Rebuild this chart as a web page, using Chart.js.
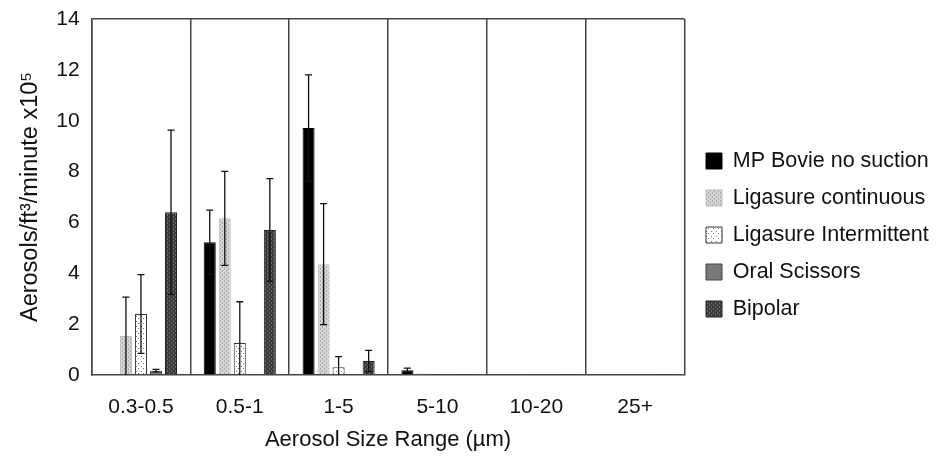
<!DOCTYPE html>
<html>
<head>
<meta charset="utf-8">
<script src="https://cdn.jsdelivr.net/npm/chart.js@4"></script>
<style>
html,body{margin:0;padding:0;background:#fff;}
#wrap{width:938px;height:456px;}
</style>
</head>
<body>
<div id="wrap"><canvas id="c" width="938" height="456"></canvas></div>
<script>
const categories = ['0.3-0.5', '0.5-1', '1-5', '5-10', '10-20', '25+'];
const seriesNames = ['MP Bovie no suction', 'Ligasure continuous', 'Ligasure Intermittent', 'Oral Scissors', 'Bipolar'];
const mpBovie      = [0.00, 5.22, 9.71, 0.19, 0.00, 0.00];
const ligCont      = [1.53, 6.16, 4.36, 0.06, 0.02, 0.00];
const ligInt       = [2.40, 1.26, 0.30, 0.02, 0.00, 0.00];
const oralScissors = [0.17, 0.02, 0.01, 0.02, 0.02, 0.00];
const bipolar      = [6.40, 5.70, 0.55, 0.02, 0.02, 0.02];
const mpBovieErr      = [0.00, 1.26, 2.09, 0.08, 0.00, 0.00];
const ligContErr      = [1.53, 1.85, 2.38, 0.00, 0.00, 0.00];
const ligIntErr       = [1.55, 1.62, 0.42, 0.00, 0.00, 0.00];
const oralScissorsErr = [0.05, 0.00, 0.00, 0.00, 0.00, 0.00];
const bipolarErr      = [3.23, 2.02, 0.42, 0.00, 0.00, 0.00];
const yTicks = [0, 2, 4, 6, 8, 10, 12, 14];

const FONT = '"Liberation Sans", Arial, sans-serif';

function makePattern(w, h, draw) {
  const c = document.createElement('canvas');
  c.width = w; c.height = h;
  const g = c.getContext('2d');
  draw(g);
  return document.getElementById('c').getContext('2d').createPattern(c, 'repeat');
}
const patLigCont = makePattern(4, 4, g => {
  g.fillStyle = '#d6d6d6'; g.fillRect(0, 0, 4, 4);
  g.fillStyle = '#a8a8a8'; g.fillRect(0, 0, 1, 2); g.fillRect(2, 2, 1, 2);
});
const patLigInt = makePattern(5, 5, g => {
  g.fillStyle = '#ffffff'; g.fillRect(0, 0, 5, 5);
  g.fillStyle = '#777777'; g.fillRect(1, 1, 1, 1); g.fillRect(3, 3, 1, 1);
});
const patOral = makePattern(4, 4, g => {
  g.fillStyle = '#7a7a7a'; g.fillRect(0, 0, 4, 4);
  g.fillStyle = '#6a6a6a'; g.fillRect(0, 0, 1, 1);
});
const patBipolar = makePattern(4, 4, g => {
  g.fillStyle = '#3a3a3a'; g.fillRect(0, 0, 4, 4);
  g.fillStyle = '#6a6a6a'; g.fillRect(1, 0, 1, 2); g.fillRect(3, 2, 1, 2);
});

const values = [mpBovie, ligCont, ligInt, oralScissors, bipolar];
const errors = [mpBovieErr, ligContErr, ligIntErr, oralScissorsErr, bipolarErr];
const fills = ['#000000', patLigCont, patLigInt, patOral, patBipolar];
const borders = ['#000000', '#bdbdbd', '#333333', '#444444', '#222222'];

const errorBars = {
  id: 'errorBars',
  afterDatasetsDraw(chart) {
    const ctx = chart.ctx;
    const y = chart.scales.y;
    ctx.save();
    ctx.strokeStyle = '#111';
    ctx.lineWidth = 1.3;
    chart.data.datasets.forEach((ds, di) => {
      const meta = chart.getDatasetMeta(di);
      meta.data.forEach((el, i) => {
        const e = errors[di][i];
        if (!e) return;
        const v = ds.data[i];
        const yt = y.getPixelForValue(v + e);
        const yb = y.getPixelForValue(Math.max(0, v - e));
        ctx.beginPath();
        ctx.moveTo(el.x, yt); ctx.lineTo(el.x, yb);
        ctx.moveTo(el.x - 3.5, yt); ctx.lineTo(el.x + 3.5, yt);
        if (v - e > 0) { ctx.moveTo(el.x - 3.5, yb); ctx.lineTo(el.x + 3.5, yb); }
        ctx.stroke();
      });
    });
    ctx.restore();
  }
};

// widen the legend box (gap between plot and legend) and nudge the legend items
const legendPlace = {
  id: 'legendPlace',
  beforeLayout(chart) {
    const lg = chart.legend;
    if (lg && !lg._patched) {
      const fit = lg.fit;
      lg.fit = function () { fit.call(this); this.width += 23; };
      lg._patched = true;
    }
  },
  afterLayout(chart) {
    const lg = chart.legend;
    lg.left += 6; lg.right += 6;
    lg.top -= 1; lg.bottom -= 1;
  }
};

new Chart(document.getElementById('c'), {
  type: 'bar',
  data: {
    labels: categories,
    datasets: seriesNames.map((n, i) => ({
      label: n,
      data: values[i],
      backgroundColor: fills[i],
      borderColor: borders[i],
      borderWidth: 1,
      categoryPercentage: 0.76,
      barPercentage: 0.8
    }))
  },
  options: {
    responsive: false,
    animation: false,
    devicePixelRatio: 1,
    layout: { padding: { top: 19, right: 0, left: 16, bottom: 3 } },
    plugins: {
      tooltip: { enabled: false },
      legend: {
        position: 'right',
        labels: {
          boxWidth: 16, boxHeight: 16, padding: 15.5,
          color: '#111',
          font: { family: FONT, size: 21.5 }
        }
      }
    },
    scales: {
      x: {
        afterFit(s) { s.height = 78; },
        grid: { offset: true, color: '#444', lineWidth: 1.5, drawTicks: false },
        border: { color: '#444', width: 1.5 },
        ticks: { color: '#111', padding: 20, maxRotation: 0, minRotation: 0, autoSkip: false, font: { family: FONT, size: 21 } },
        title: { display: true, text: 'Aerosol Size Range (µm)', color: '#111', padding: { top: 6, bottom: 0 }, font: { family: FONT, size: 22 } }
      },
      y: {
        min: 0, max: 14,
        afterFit(s) { s.paddingTop = 0; s.paddingBottom = 0; },
        afterBuildTicks(s) { s.ticks = yTicks.map(v => ({ value: v })); },
        grid: { color: ctx => (ctx.tick && ctx.tick.value === 14 ? '#444' : 'rgba(0,0,0,0)'), lineWidth: 1.5, drawTicks: false },
        border: { color: '#444', width: 1.5 },
        ticks: { color: '#111', padding: 12, font: { family: FONT, size: 21 } },
        title: { display: true, text: 'Aerosols/ft³/minute x10⁵', color: '#111', padding: { top: 0, bottom: 0 }, font: { family: FONT, size: 23.5 } }
      }
    }
  },
  plugins: [errorBars, legendPlace]
});
</script>
</body>
</html>
